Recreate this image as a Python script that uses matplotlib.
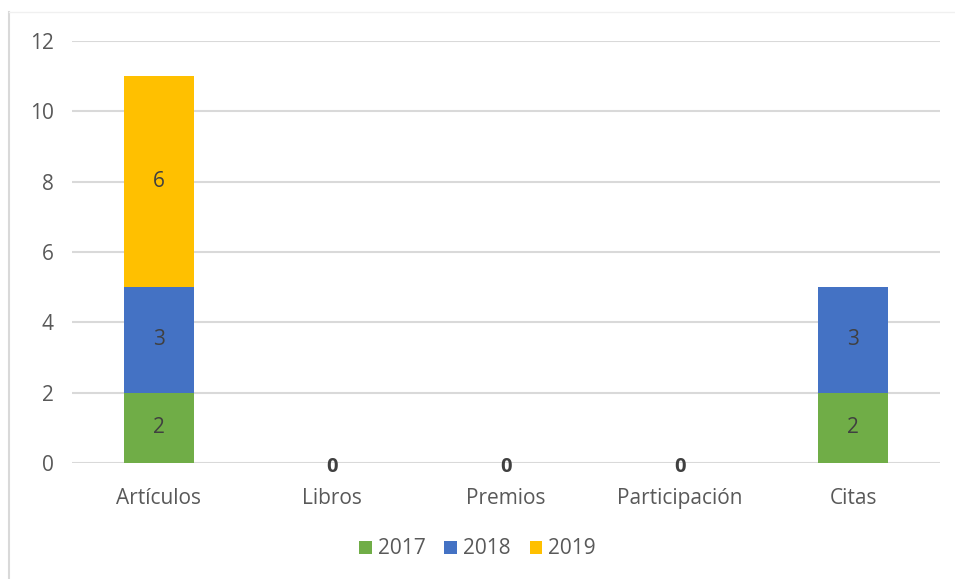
import matplotlib.pyplot as plt
import matplotlib.lines as mlines
import numpy as np

# Data
categories = ["Artículos", "Libros", "Premios", "Participación", "Citas"]
years = ["2017", "2018", "2019"]
v2017 = [2, 0, 0, 0, 2]
v2018 = [3, 0, 0, 0, 3]
v2019 = [6, 0, 0, 0, 0]
colors = ["#70AD47", "#4472C4", "#FFC000"]

plt.rcParams['font.family'] = ['Open Sans', 'DejaVu Sans']
fs = 15

fig = plt.figure(figsize=(9.55, 5.79), dpi=100)
ax = fig.add_axes([72 / 955, 116 / 579, 868 / 955, 422 / 579])

x = np.arange(len(categories))
series = [v2017, v2018, v2019]
bottom = np.zeros(len(categories))
for vals, col, yr in zip(series, colors, years):
    vals = np.array(vals)
    ax.bar(x, vals, 0.40, bottom=bottom, color=col, label=yr, zorder=3)
    for i, v in enumerate(vals):
        if v > 0:
            ax.text(x[i], bottom[i] + v / 2, str(v), ha='center', va='center',
                    fontsize=fs, color='#404040', zorder=4)
    bottom = bottom + vals

# bold zero labels where the whole stack is empty
for i, tot in enumerate(bottom):
    if tot == 0:
        ax.annotate("0", (x[i], 0), xytext=(0, -3), textcoords='offset points',
                    ha='center', va='center', fontsize=fs - 0.5, fontweight='bold',
                    color='#404040', zorder=4)

ax.set_xlim(-0.5, len(categories) - 0.5)
ax.set_ylim(0, 12)
ax.set_yticks(range(0, 13, 2))
ax.set_xticks(x)
ax.set_xticklabels(categories)
ax.tick_params(axis='both', length=0, labelsize=fs, colors='#595959')
ax.tick_params(axis='x', pad=18)
ax.tick_params(axis='y', pad=13)
ax.grid(axis='y', color='#d9d9d9', linewidth=1.5, zorder=0)
for s in ax.spines.values():
    s.set_visible(False)

leg = fig.legend(loc='center', bbox_to_anchor=(0.5, 1 - 549 / 579), ncol=3,
                 frameon=False, fontsize=fs, handlelength=0.6, handleheight=0.6,
                 handletextpad=0.3, columnspacing=0.9)
for t in leg.get_texts():
    t.set_color('#595959')

# chart frame
fig.add_artist(mlines.Line2D([8.5 / 955, 8.5 / 955], [0, 1 - 12 / 579],
                             color='#d9d9d9', linewidth=1.5))
fig.add_artist(mlines.Line2D([8.5 / 955, 1], [1 - 12 / 579, 1 - 12 / 579],
                             color='#f0f0f0', linewidth=1))

fig.savefig("out.png", dpi=100)
